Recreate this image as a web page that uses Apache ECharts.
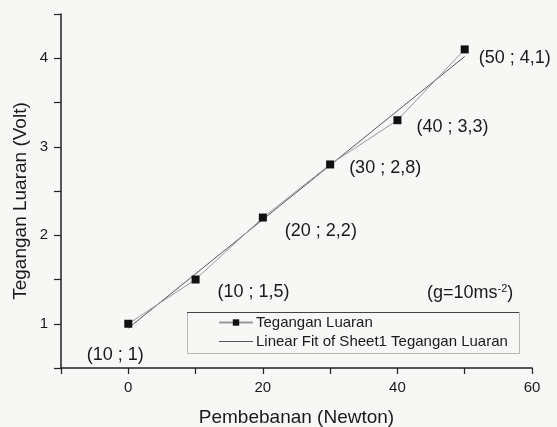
<!DOCTYPE html>
<html><head><meta charset="utf-8">
<script src="https://cdn.jsdelivr.net/npm/echarts@6/dist/echarts.min.js"></script>
<style>html,body{margin:0;padding:0;background:#f7f7f5}#c{width:557px;height:427px}</style>
</head><body><div id="c"></div>
<script>
var loads = [0, 10, 20, 30, 40, 50];
var voltages = [1, 1.5, 2.2, 2.8, 3.3, 4.1];
var pointLabels = ['(10 ; 1)', '(10 ; 1,5)', '(20 ; 2,2)', '(30 ; 2,8)', '(40 ; 3,3)', '(50 ; 4,1)'];
var fitX = [0, 50];
var fitY = [0.95, 4.02];
var xTicks = [0, 20, 40, 60];
var yTicks = [1, 2, 3, 4];

var labelOffsets = [[-13, 31], [58, 13], [58, 13], [55, 4], [55, 7], [50, 9]];
var font = 'Liberation Sans, Arial, sans-serif';

var chart = echarts.init(document.getElementById('c'));
var mainData = loads.map(function (x, i) {
  return {
    value: [x, voltages[i]],
    label: { show: true, formatter: pointLabels[i], position: 'inside', offset: labelOffsets[i],
      align: 'center', verticalAlign: 'middle', color: '#1a1a1a', fontSize: 18, fontFamily: font }
  };
});
var fitData = fitX.map(function (x, i) { return [x, fitY[i]]; });

chart.setOption({
  backgroundColor: '#f7f7f5',
  animation: false,
  grid: { left: 61, right: 25, top: 14, bottom: 59, containLabel: false, outerBoundsMode: 'none' },
  xAxis: {
    type: 'value', min: -10, max: 60, interval: 10,
    name: 'Pembebanan (Newton)', nameLocation: 'middle', nameGap: 40,
    nameTextStyle: { fontSize: 19, color: '#1a1a1a', fontFamily: font },
    axisLine: { show: true, onZero: false, lineStyle: { color: '#222', width: 1.5 } },
    axisTick: { show: true, length: 6, inside: false, lineStyle: { color: '#222', width: 1.2 } },
    splitLine: { show: false },
    axisLabel: { fontSize: 15, color: '#1a1a1a', fontFamily: font, margin: 12,
      formatter: function (v) { return xTicks.indexOf(v) >= 0 ? String(v) : ''; } }
  },
  yAxis: {
    type: 'value', min: 0.5, max: 4.5, interval: 0.5,
    name: 'Tegangan Luaran (Volt)', nameLocation: 'middle', nameGap: 31, nameMoveOverlap: false,
    nameTextStyle: { fontSize: 19, color: '#1a1a1a', fontFamily: font, padding: [0, 20, 0, 0] },
    axisLine: { show: true, onZero: false, lineStyle: { color: '#222', width: 1.5 } },
    axisTick: { show: true, length: 7, inside: false, lineStyle: { color: '#222', width: 1.2 } },
    splitLine: { show: false },
    axisLabel: { fontSize: 15, color: '#1a1a1a', fontFamily: font, margin: 13,
      formatter: function (v) { return yTicks.indexOf(v) >= 0 ? String(v) : ''; } }
  },
  legend: {
    orient: 'vertical', left: 218, top: 315, padding: 0,
    itemWidth: 34, itemHeight: 8, itemGap: 4,
    textStyle: { fontSize: 15, color: '#1a1a1a', fontFamily: font, padding: [0, 0, 0, -2] },
    data: [
      { name: 'Tegangan Luaran' },
      { name: 'Linear Fit of Sheet1 Tegangan Luaran', icon: 'path://M0,0 L34,0 L34,1 L0,1 Z' }
    ]
  },
  graphic: [
    { type: 'rect', left: 187, top: 312, shape: { width: 332, height: 41 }, z: 0,
      style: { fill: 'rgba(0,0,0,0)', stroke: '#777', lineWidth: 1, lineDash: [1, 1] } },
    { type: 'line', shape: { x1: 187, y1: 312.5, x2: 519, y2: 312.5 }, z: 1,
      style: { stroke: '#444', lineWidth: 1 } },
    { type: 'text', left: 427, top: 283, z: 10,
      style: { text: '{a|(g=10ms}{s|-2}{a|)}', rich: {
        a: { fontSize: 18, fontFamily: font, fill: '#1a1a1a' },
        s: { fontSize: 11, fontFamily: font, fill: '#1a1a1a', verticalAlign: 'top', padding: [0, 0, 9, 0] } } } }
  ],
  series: [
    {
      name: 'Linear Fit of Sheet1 Tegangan Luaran', type: 'line', data: fitData,
      symbol: 'none', lineStyle: { color: '#555', width: 1 }, itemStyle: { color: '#555' }, z: 2
    },
    {
      name: 'Tegangan Luaran', type: 'line', data: mainData,
      symbol: 'rect', symbolSize: 8, itemStyle: { color: '#111' },
      lineStyle: { color: '#999', width: 1 }, z: 3
    }
  ]
});
</script></body></html>
